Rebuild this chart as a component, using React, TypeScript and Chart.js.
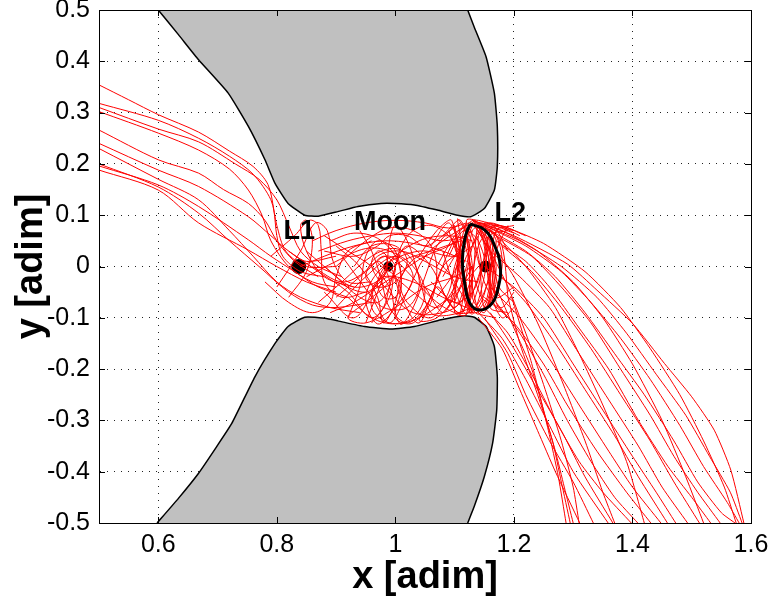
import React, { useEffect, useRef } from "react";
import { Chart, registerables } from "chart.js";

Chart.register(...registerables);

type Pt = [number, number];

// ---------- axes ----------
const xTickValues = [0.6, 0.8, 1.0, 1.2, 1.4, 1.6];
const yTickValues = [-0.5, -0.4, -0.3, -0.2, -0.1, 0, 0.1, 0.2, 0.3, 0.4, 0.5];
const xTitle = "x [adim]";
const yTitle = "y [adim]";

// ---------- forbidden (zero-velocity) regions ----------
const upperForbidden: Pt[] = [
  [0.6, 0.5], [0.634, 0.452], [0.668, 0.403], [0.718, 0.338], [0.752, 0.273], [0.78, 0.208],
  [0.797, 0.162], [0.819, 0.123], [0.847, 0.1], [0.87, 0.098], [0.903, 0.107],
  [0.937, 0.117], [0.976, 0.123], [0.999, 0.123], [1.032, 0.12], [1.071, 0.11],
  [1.105, 0.1], [1.127, 0.097], [1.15, 0.113], [1.167, 0.149], [1.172, 0.195],
  [1.172, 0.273], [1.167, 0.338], [1.153, 0.409], [1.133, 0.467], [1.122, 0.5],
];
const lowerForbidden: Pt[] = [
  [0.598, -0.5], [0.634, -0.452], [0.668, -0.403], [0.698, -0.352], [0.724, -0.306], [0.763, -0.215], [0.797, -0.15],
  [0.819, -0.117], [0.847, -0.099], [0.881, -0.101], [0.903, -0.106], [0.948, -0.117],
  [0.993, -0.122], [1.032, -0.117], [1.077, -0.104], [1.116, -0.096], [1.133, -0.099],
  [1.153, -0.117], [1.167, -0.156], [1.172, -0.215], [1.171, -0.28], [1.164, -0.345],
  [1.15, -0.41], [1.133, -0.468], [1.122, -0.5],
];

// ---------- libration points / Moon ----------
const pointNames = ["L1", "Moon", "L2"];
const pointX = [0.837, 0.988, 1.152];
const pointY = [0, 0, 0];
const labelX = [0.838, 0.991, 1.194];
const labelY = [0.068, 0.085, 0.104];

// ---------- periodic orbit around L2 ----------
const l2Orbit: Pt[] = [
  [1.126, 0.083], [1.151, 0.071], [1.168, 0.039], [1.177, 0.0], [1.174, -0.039],
  [1.163, -0.072], [1.143, -0.085], [1.126, -0.072], [1.117, -0.033], [1.113, 0.012],
  [1.118, 0.058], [1.126, 0.083],
];

// ---------- trajectories: arrival from the left ----------
const entryPaths: Pt[][] = [
  [[0.5, 0.354], [0.55, 0.325], [0.6, 0.296], [0.668, 0.262], [0.72, 0.225], [0.76, 0.195], [0.785, 0.16], [0.795, 0.11], [0.8, 0.06], [0.81, 0.02], [0.84, -0.01], [0.88, -0.02]],
  [[0.5, 0.318], [0.6, 0.285], [0.668, 0.25], [0.72, 0.215], [0.76, 0.18], [0.79, 0.13], [0.8, 0.08], [0.815, 0.03], [0.85, 0.0], [0.9, 0.0]],
  [[0.5, 0.31], [0.6, 0.268], [0.668, 0.243], [0.73, 0.2], [0.77, 0.17], [0.8, 0.13], [0.82, 0.08], [0.84, 0.03], [0.87, 0.0], [0.91, -0.02]],
  [[0.5, 0.302], [0.6, 0.26], [0.668, 0.227], [0.72, 0.19], [0.752, 0.149], [0.775, 0.1], [0.79, 0.05], [0.82, 0.0], [0.86, -0.03], [0.9, -0.04]],
  [[0.5, 0.266], [0.6, 0.208], [0.668, 0.182], [0.71, 0.15], [0.752, 0.123], [0.78, 0.09], [0.8, 0.05], [0.83, 0.01], [0.87, -0.02]],
  [[0.5, 0.24], [0.6, 0.188], [0.668, 0.156], [0.752, 0.097], [0.79, 0.06], [0.82, 0.03], [0.85, 0.01], [0.9, 0.02]],
  [[0.5, 0.196], [0.6, 0.159], [0.668, 0.117], [0.752, 0.052], [0.79, 0.02], [0.83, -0.01], [0.87, -0.04], [0.92, -0.06]],
  [[0.5, 0.188], [0.6, 0.149], [0.668, 0.085], [0.752, 0.032], [0.8, 0.0], [0.85, -0.03], [0.9, -0.05]],
  [[0.5, 0.23], [0.6, 0.17], [0.668, 0.13], [0.72, 0.07], [0.76, 0.02], [0.8, -0.03], [0.84, -0.06], [0.89, -0.08], [0.94, -0.09]],
  [[0.5, 0.2], [0.6, 0.155], [0.668, 0.104], [0.72, 0.05], [0.77, 0.0], [0.82, -0.05], [0.86, -0.075], [0.9, -0.08], [0.96, -0.07]],
];

// ---------- trajectories: loops in the L1 neck ----------
const l1NeckPaths: Pt[][] = [
  [[0.79, 0.02], [0.83, 0.06], [0.855, 0.09], [0.87, 0.08], [0.875, 0.03], [0.88, -0.03], [0.91, -0.06], [0.95, -0.05]],
  [[0.8, -0.04], [0.84, 0.03], [0.865, 0.085], [0.885, 0.07], [0.895, 0.01], [0.92, -0.03], [0.96, -0.03]],
  [[0.82, -0.06], [0.85, -0.01], [0.86, 0.05], [0.85, 0.09], [0.84, 0.08], [0.85, 0.03], [0.88, -0.02], [0.93, -0.04]],
  [[0.78, -0.03], [0.82, -0.07], [0.86, -0.09], [0.89, -0.07], [0.9, -0.02], [0.92, 0.03], [0.96, 0.05]],
];

// ---------- trajectories: wandering round the Moon ----------
const moonPaths: Pt[][] = [
  [[0.84, 0.0], [0.88, 0.02], [0.93, 0.04], [0.98, 0.05], [1.03, 0.045], [1.08, 0.03], [1.12, 0.01]],
  [[0.85, -0.02], [0.9, 0.01], [0.95, 0.035], [0.99, 0.03], [1.03, 0.0], [1.05, -0.05], [1.03, -0.1], [0.99, -0.11], [0.96, -0.08], [0.97, -0.03], [1.01, 0.01], [1.06, 0.03], [1.11, 0.05]],
  [[0.82, 0.03], [0.87, -0.01], [0.92, -0.05], [0.96, -0.1], [0.99, -0.06], [1.0, 0.0], [1.02, 0.04], [1.06, 0.0], [1.09, -0.07], [1.11, -0.09], [1.13, -0.05]],
  [[0.86, 0.0], [0.91, -0.03], [0.95, -0.01], [0.98, 0.02], [1.0, 0.0], [0.99, -0.03], [0.95, -0.07], [0.92, -0.1], [0.95, -0.11], [1.0, -0.08], [1.05, -0.04], [1.1, -0.02], [1.13, 0.0]],
  [[0.88, -0.05], [0.93, -0.1], [0.97, -0.03], [0.99, 0.0], [1.01, -0.06], [1.04, -0.11], [1.07, -0.04], [1.1, -0.08], [1.12, -0.03]],
  [[0.9, -0.08], [0.95, -0.02], [1.0, 0.02], [1.03, -0.02], [1.0, -0.08], [0.97, -0.112], [0.95, -0.06], [0.98, 0.0], [1.04, 0.03], [1.1, 0.02], [1.13, 0.04]],
  [[0.87, 0.03], [0.92, 0.05], [0.96, 0.06], [1.0, 0.065], [1.04, 0.06], [1.08, 0.05], [1.12, 0.06]],
  [[0.88, 0.0], [0.93, -0.04], [0.98, -0.02], [0.985, 0.02], [0.97, 0.03], [0.96, 0.0], [0.99, -0.05], [1.03, -0.09], [1.08, -0.09], [1.11, -0.07], [1.13, -0.02]],
  [[0.9, -0.06], [0.94, -0.02], [0.97, 0.01], [0.985, -0.005], [1.0, -0.02], [1.02, -0.07], [1.06, -0.1], [1.09, -0.05], [1.1, 0.0], [1.12, 0.07]],
  [[0.93, 0.0], [0.96, 0.04], [1.0, 0.04], [1.02, 0.01], [1.0, -0.03], [0.97, -0.04], [0.95, -0.02], [0.97, 0.02], [1.01, 0.03], [1.05, 0.01], [1.1, -0.02], [1.14, -0.03]],
  [[0.91, 0.02], [0.96, -0.06], [0.99, -0.11], [1.02, -0.05], [1.05, 0.02], [1.08, 0.05], [1.12, 0.08]],
  [[0.95, -0.11], [0.97, -0.05], [0.985, 0.0], [0.99, 0.05], [1.0, 0.08], [1.02, 0.05], [1.04, -0.02], [1.06, -0.09], [1.09, -0.095], [1.13, -0.08]],
  [[0.89, -0.09], [0.93, -0.07], [0.97, -0.04], [1.01, -0.01], [1.05, 0.02], [1.09, 0.04], [1.13, 0.07]],
  [[0.92, -0.1], [0.94, -0.04], [0.95, 0.02], [0.97, 0.05], [1.0, 0.03], [1.01, -0.04], [1.0, -0.1], [1.03, -0.11], [1.06, -0.06], [1.08, 0.0], [1.11, 0.03]],
  [[0.86, 0.05], [0.9, 0.07], [0.95, 0.085], [1.0, 0.09], [1.05, 0.085], [1.09, 0.075], [1.12, 0.085]],
  [[0.88, 0.06], [0.92, 0.03], [0.96, 0.0], [0.99, -0.04], [1.0, -0.09], [1.01, -0.113], [1.03, -0.08], [1.05, -0.02], [1.07, 0.04], [1.1, 0.08]],
  [[0.9, 0.04], [0.94, 0.0], [0.97, -0.06], [0.98, -0.11], [1.0, -0.07], [1.01, -0.02], [1.04, 0.02], [1.08, 0.0], [1.11, -0.05], [1.13, -0.09]],
  [[0.87, -0.07], [0.91, -0.03], [0.96, 0.02], [1.0, 0.035], [1.03, 0.01], [1.04, -0.04], [1.02, -0.08], [0.98, -0.08], [0.96, -0.05], [0.98, -0.02], [1.03, -0.03], [1.08, -0.06], [1.12, -0.08]],
  [[0.9, 0.0], [0.95, 0.05], [0.99, 0.075], [1.03, 0.07], [1.06, 0.04], [1.07, -0.01], [1.06, -0.07], [1.04, -0.105], [1.07, -0.1], [1.1, -0.06], [1.13, 0.0]],
  [[0.92, -0.06], [0.96, -0.1], [1.0, -0.112], [1.04, -0.1], [1.08, -0.07], [1.11, -0.04], [1.14, 0.0]],
  [[0.85, 0.03], [0.9, -0.02], [0.94, -0.06], [0.97, -0.07], [0.99, -0.04], [0.985, -0.01], [0.97, 0.01], [0.99, 0.02], [1.02, -0.01], [1.06, -0.06], [1.1, -0.09], [1.13, -0.09]],
  [[0.94, 0.07], [0.96, 0.03], [0.975, -0.02], [0.99, -0.08], [1.02, -0.11], [1.05, -0.08], [1.07, -0.03], [1.09, 0.03], [1.11, 0.07], [1.13, 0.09]],
  [[0.89, 0.05], [0.93, 0.065], [0.97, 0.055], [1.0, 0.02], [1.01, -0.03], [1.0, -0.06], [0.98, -0.06], [0.97, -0.03], [0.99, 0.01], [1.04, 0.05], [1.09, 0.06], [1.13, 0.05]],
  [[0.96, -0.11], [0.98, -0.08], [0.99, -0.04], [1.0, 0.0], [1.01, 0.04], [1.03, 0.07], [1.06, 0.08], [1.09, 0.06], [1.11, 0.02], [1.12, -0.04], [1.13, -0.09]],
  [[0.88, 0.03], [0.93, 0.02], [0.97, 0.04], [0.99, 0.06], [1.02, 0.06], [1.05, 0.04], [1.08, 0.06], [1.11, 0.085]],
  [[0.9, -0.03], [0.95, -0.05], [0.99, -0.02], [1.03, -0.05], [1.07, -0.08], [1.1, -0.04], [1.12, 0.02], [1.14, 0.06]],
];

// ---------- trajectories: crossing the L2 neck ----------
const l2NeckPaths: Pt[][] = [
  [[1.08, 0.06], [1.11, 0.09], [1.13, 0.0], [1.125, -0.09], [1.15, -0.05], [1.17, 0.05], [1.15, 0.085], [1.2, 0.065]],
  [[1.08, -0.05], [1.11, -0.093], [1.13, -0.02], [1.14, 0.08], [1.16, 0.02], [1.17, -0.06], [1.2, -0.04]],
  [[1.09, 0.02], [1.115, 0.07], [1.14, 0.05], [1.16, -0.04], [1.15, -0.09], [1.13, -0.06], [1.14, 0.04], [1.17, 0.08], [1.22, 0.06]],
  [[1.1, 0.08], [1.12, -0.04], [1.13, -0.09], [1.16, -0.07], [1.18, 0.0], [1.17, 0.06], [1.14, 0.085], [1.2, 0.07]],
  [[1.09, -0.08], [1.12, 0.05], [1.135, 0.085], [1.155, 0.03], [1.165, -0.07], [1.18, -0.08], [1.2, -0.05]],
  [[1.1, -0.02], [1.12, 0.08], [1.14, 0.02], [1.15, -0.08], [1.17, -0.03], [1.16, 0.06], [1.19, 0.07]],
  [[1.1, 0.05], [1.115, -0.05], [1.13, -0.093], [1.15, -0.02], [1.16, 0.07], [1.18, 0.04], [1.19, -0.06]],
  [[1.11, -0.09], [1.13, 0.04], [1.15, 0.08], [1.17, 0.0], [1.16, -0.08], [1.19, -0.09]],
  [[1.07, 0.0], [1.1, 0.06], [1.125, 0.085], [1.145, 0.06], [1.16, 0.0], [1.155, -0.06], [1.14, -0.09], [1.17, -0.1]],
  [[1.06, -0.03], [1.1, -0.07], [1.13, -0.05], [1.145, 0.0], [1.14, 0.06], [1.16, 0.085], [1.21, 0.06]],
  [[1.06, 0.04], [1.09, 0.085], [1.11, 0.03], [1.12, -0.06], [1.14, -0.093], [1.16, -0.05], [1.17, 0.03], [1.19, 0.08]],
  [[1.07, -0.06], [1.1, -0.01], [1.12, 0.06], [1.135, 0.09], [1.15, 0.04], [1.16, -0.05], [1.18, -0.1], [1.2, -0.08]],
  [[1.08, 0.03], [1.105, -0.06], [1.12, -0.093], [1.14, -0.04], [1.155, 0.05], [1.165, 0.08], [1.19, 0.03]],
  [[1.09, 0.07], [1.11, 0.0], [1.12, -0.08], [1.14, -0.08], [1.16, -0.01], [1.17, 0.07], [1.2, 0.08]],
  [[1.08, -0.02], [1.11, 0.04], [1.13, 0.08], [1.15, 0.06], [1.165, 0.0], [1.17, -0.07], [1.19, -0.1]],
  [[1.1, -0.07], [1.12, 0.0], [1.13, 0.07], [1.145, 0.08], [1.16, 0.03], [1.175, -0.04], [1.2, -0.07]],
  [[1.04, 0.02], [1.07, 0.07], [1.095, 0.09], [1.105, 0.0], [1.1, -0.09], [1.12, -0.093], [1.125, 0.0], [1.12, 0.09], [1.14, 0.09]],
  [[1.05, -0.04], [1.08, -0.09], [1.1, -0.05], [1.11, 0.05], [1.105, 0.093], [1.12, 0.06], [1.13, -0.04], [1.14, -0.09]],
  [[1.12, 0.075], [1.135, 0.03], [1.15, -0.03], [1.165, -0.065]],
  [[1.125, -0.07], [1.14, -0.02], [1.155, 0.03], [1.165, 0.05]],
  [[1.118, 0.04], [1.13, -0.01], [1.145, -0.06], [1.16, -0.075]],
];

// ---------- trajectories: escape beyond L2 ----------
const exitPaths: Pt[][] = [
  [[1.13, 0.09], [1.2, 0.06], [1.29, 0.005], [1.34, -0.046], [1.4, -0.111], [1.454, -0.189], [1.5, -0.254], [1.538, -0.319], [1.566, -0.397], [1.588, -0.5]],
  [[1.14, 0.085], [1.21, 0.05], [1.28, 0.0], [1.34, -0.06], [1.39, -0.13], [1.44, -0.21], [1.49, -0.29], [1.53, -0.37], [1.565, -0.44], [1.585, -0.5]],
  [[1.15, 0.08], [1.22, 0.04], [1.28, -0.01], [1.33, -0.07], [1.38, -0.14], [1.43, -0.22], [1.48, -0.31], [1.52, -0.39], [1.56, -0.46], [1.58, -0.5]],
  [[1.16, 0.07], [1.22, 0.03], [1.27, -0.02], [1.32, -0.09], [1.37, -0.17], [1.42, -0.25], [1.47, -0.34], [1.51, -0.42], [1.55, -0.48], [1.573, -0.5]],
  [[1.17, 0.06], [1.23, 0.02], [1.28, -0.04], [1.33, -0.11], [1.38, -0.2], [1.43, -0.29], [1.47, -0.37], [1.51, -0.44], [1.548, -0.5]],
  [[1.17, 0.05], [1.22, 0.01], [1.26, -0.04], [1.31, -0.12], [1.36, -0.2], [1.41, -0.3], [1.46, -0.39], [1.5, -0.45], [1.532, -0.5]],
  [[1.18, 0.04], [1.23, -0.01], [1.28, -0.08], [1.33, -0.16], [1.38, -0.25], [1.43, -0.34], [1.47, -0.42], [1.513, -0.5]],
  [[1.16, 0.03], [1.21, -0.02], [1.26, -0.08], [1.31, -0.17], [1.36, -0.26], [1.41, -0.35], [1.45, -0.43], [1.493, -0.5]],
  [[1.15, 0.0], [1.2, -0.04], [1.25, -0.1], [1.3, -0.19], [1.35, -0.28], [1.4, -0.37], [1.44, -0.44], [1.473, -0.5]],
  [[1.18, -0.02], [1.22, -0.07], [1.27, -0.15], [1.32, -0.24], [1.37, -0.33], [1.41, -0.41], [1.459, -0.5]],
  [[1.16, -0.04], [1.21, -0.1], [1.26, -0.18], [1.31, -0.27], [1.36, -0.36], [1.4, -0.43], [1.448, -0.5]],
  [[1.15, -0.06], [1.2, -0.11], [1.25, -0.19], [1.29, -0.27], [1.34, -0.36], [1.39, -0.44], [1.431, -0.5]],
  [[1.17, -0.07], [1.21, -0.13], [1.25, -0.21], [1.29, -0.3], [1.33, -0.38], [1.37, -0.45], [1.409, -0.5]],
  [[1.15, -0.08], [1.19, -0.13], [1.23, -0.21], [1.27, -0.3], [1.31, -0.38], [1.35, -0.44], [1.398, -0.5]],
  [[1.16, -0.09], [1.2, -0.16], [1.24, -0.24], [1.28, -0.32], [1.32, -0.41], [1.367, -0.5]],
  [[1.14, -0.09], [1.18, -0.14], [1.22, -0.22], [1.26, -0.31], [1.3, -0.4], [1.359, -0.5]],
  [[1.15, -0.1], [1.19, -0.17], [1.22, -0.25], [1.26, -0.34], [1.3, -0.42], [1.334, -0.5]],
  [[1.14, -0.1], [1.18, -0.16], [1.21, -0.24], [1.24, -0.32], [1.27, -0.4], [1.311, -0.5]],
  [[1.17, -0.04], [1.2, -0.12], [1.23, -0.2], [1.25, -0.28], [1.27, -0.36], [1.285, -0.43], [1.3, -0.5]],
  [[1.19, -0.06], [1.21, -0.15], [1.24, -0.25], [1.265, -0.34], [1.28, -0.42], [1.295, -0.5]],
  [[1.196, -0.059], [1.23, -0.189], [1.258, -0.319], [1.275, -0.41], [1.288, -0.5]],
  [[1.13, 0.09], [1.17, 0.06], [1.22, 0.0], [1.27, -0.08], [1.31, -0.17], [1.35, -0.27], [1.39, -0.38], [1.42, -0.5]],
  [[1.13, 0.09], [1.18, 0.07], [1.24, 0.03], [1.3, -0.03], [1.35, -0.1], [1.4, -0.19], [1.45, -0.3], [1.49, -0.41], [1.52, -0.5]],
  [[1.13, 0.09], [1.16, 0.05], [1.2, -0.02], [1.24, -0.11], [1.28, -0.22], [1.32, -0.34], [1.35, -0.44], [1.37, -0.5]],
  [[1.14, 0.09], [1.19, 0.075], [1.25, 0.045], [1.32, -0.01], [1.38, -0.08], [1.43, -0.16], [1.48, -0.25], [1.52, -0.34], [1.555, -0.43], [1.575, -0.5]],
  [[1.13, 0.085], [1.16, 0.03], [1.19, -0.04], [1.22, -0.13], [1.25, -0.23], [1.28, -0.34], [1.3, -0.43], [1.31, -0.5]],
];

// ---------- styles ----------
const FONT = '"Liberation Sans", Arial, Helvetica, sans-serif';
const RED = "#ff0000";
const GRAY = "rgb(192,192,192)";
const markerRadius = [7.5, 5, 6];

const fmt = (v: number) => {
  const r = Math.round(v * 10) / 10;
  return r === 0 ? "0" : String(r);
};

const toXY = (pts: Pt[]) => pts.map(([x, y]) => ({ x, y }));

const framePlugin = {
  id: "frame",
  afterDraw(chart: any) {
    const { ctx, chartArea: a, scales } = chart;
    const xs = scales.x;
    const ys = scales.y;
    ctx.save();
    ctx.strokeStyle = "#000";
    ctx.lineWidth = 1;
    ctx.strokeRect(a.left + 0.5, a.top + 0.5, a.right - a.left, a.bottom - a.top);
    ctx.beginPath();
    const tl = 6;
    xs.ticks.forEach((t: any) => {
      const px = Math.round(xs.getPixelForValue(t.value)) + 0.5;
      ctx.moveTo(px, a.bottom);
      ctx.lineTo(px, a.bottom - tl);
      ctx.moveTo(px, a.top);
      ctx.lineTo(px, a.top + tl);
    });
    ys.ticks.forEach((t: any) => {
      const py = Math.round(ys.getPixelForValue(t.value)) + 0.5;
      ctx.moveTo(a.left, py);
      ctx.lineTo(a.left + tl, py);
      ctx.moveTo(a.right, py);
      ctx.lineTo(a.right - tl, py);
    });
    ctx.stroke();
    ctx.fillStyle = "#000";
    ctx.textAlign = "center";
    ctx.textBaseline = "middle";
    ctx.font = `bold 27px ${FONT}`;
    pointNames.forEach((name, i) => {
      ctx.fillText(name, xs.getPixelForValue(labelX[i]), ys.getPixelForValue(labelY[i]));
    });
    ctx.restore();
  },
};

export default function App() {
  const ref = useRef<HTMLCanvasElement | null>(null);

  useEffect(() => {
    if (!ref.current) return;

    const redLine = (tension: number) => (pts: Pt[]) => ({
      data: toXY(pts),
      borderColor: RED,
      borderWidth: 1,
      pointRadius: 0,
      tension,
      fill: false,
      order: 10,
    });

    const zvc = (pts: Pt[]) => ({
      data: toXY(pts),
      borderColor: "#000",
      borderWidth: 1.5,
      backgroundColor: GRAY,
      fill: "shape",
      pointRadius: 0,
      tension: 0.15,
      order: 100,
    });

    const datasets: any[] = [
      zvc(upperForbidden),
      zvc(lowerForbidden),
      {
        data: pointX.map((x, i) => ({ x, y: pointY[i] })),
        showLine: false,
        pointRadius: markerRadius,
        pointBackgroundColor: "#000",
        pointBorderColor: "#000",
        pointBorderWidth: 0,
        order: 50,
      },
      ...entryPaths.map(redLine(0.3)),
      ...l1NeckPaths.map(redLine(0.35)),
      ...moonPaths.map(redLine(0.35)),
      ...l2NeckPaths.map(redLine(0.3)),
      ...exitPaths.map(redLine(0.2)),
      {
        data: toXY(l2Orbit),
        borderColor: "#000",
        borderWidth: 3,
        pointRadius: 0,
        tension: 0.45,
        fill: false,
        order: 1,
      },
    ];

    const chart = new Chart(ref.current, {
      type: "line",
      data: { datasets },
      options: {
        responsive: false,
        animation: false,
        devicePixelRatio: 1,
        layout: { padding: { top: 10, right: 23, left: 0, bottom: 0 } },
        plugins: { legend: { display: false }, tooltip: { enabled: false } },
        scales: {
          x: {
            type: "linear",
            min: 0.5,
            max: 1.6,
            z: 1,
            afterBuildTicks: (s: any) => {
              s.ticks = xTickValues.map((v) => ({ value: v }));
            },
            afterFit: (s: any) => {
              s.height = 79;
              s.paddingLeft = 0;
              s.paddingRight = 0;
            },
            grid: { color: "#222", lineWidth: 1, drawTicks: false },
            border: { display: true, color: "#000", width: 1, dash: [1, 6] },
            ticks: {
              padding: 7,
              color: "#000",
              autoSkip: false,
              maxRotation: 0,
              font: { family: FONT, size: 25 },
              callback: (v: any) => fmt(Number(v)),
            },
            title: {
              display: true,
              text: xTitle,
              color: "#000",
              font: { family: FONT, size: 38, weight: "bold" },
              padding: { top: 0, bottom: 2 },
            },
          },
          y: {
            type: "linear",
            min: -0.5,
            max: 0.5,
            z: 1,
            afterBuildTicks: (s: any) => {
              s.ticks = yTickValues.map((v) => ({ value: v }));
            },
            afterFit: (s: any) => {
              s.width = 99;
              s.paddingTop = 0;
              s.paddingBottom = 0;
            },
            grid: { color: "#222", lineWidth: 1, drawTicks: false },
            border: { display: true, color: "#000", width: 1, dash: [1, 6] },
            ticks: {
              padding: 9,
              color: "#000",
              autoSkip: false,
              font: { family: FONT, size: 25 },
              callback: (v: any) => fmt(Number(v)),
            },
            title: {
              display: true,
              text: yTitle,
              color: "#000",
              font: { family: FONT, size: 38, weight: "bold" },
              padding: { top: 9, bottom: 0 },
            },
          },
        },
      } as any,
      plugins: [framePlugin],
    });

    return () => chart.destroy();
  }, []);

  return (
    <div style={{ position: "absolute", left: 0, top: 0, width: 774, height: 602, background: "#fff" }}>
      <canvas ref={ref} width={774} height={602} style={{ display: "block" }} />
    </div>
  );
}
